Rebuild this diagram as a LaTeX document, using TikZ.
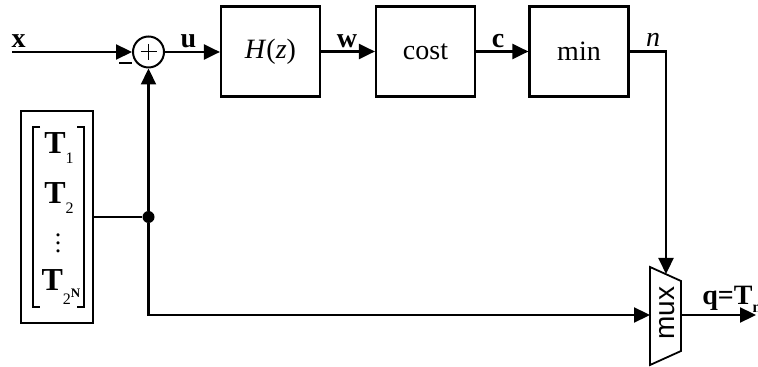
\documentclass[tikz,border=0pt]{standalone}
\usepackage{fontspec}
\setmainfont{Liberation Serif}
\newfontfamily\muxfont{Liberation Sans}
\usetikzlibrary{arrows.meta}
\begin{document}
\begin{tikzpicture}[x=0.5pt,y=-0.5pt,
  blk/.style={draw, line width=1.1pt, minimum width=49.5pt, minimum height=45pt, inner sep=0pt, font=\fontsize{14}{16}\selectfont},
  lbl/.style={font=\fontsize{14}{16}\selectfont\bfseries, inner sep=0pt, anchor=base},
  arr/.style={-{Triangle[length=8pt,width=7.5pt]}, line width=1.1pt},
  ln/.style={line width=1.1pt},
  tl/.style={font=\fontsize{16}{18}\selectfont\bfseries, inner sep=0pt}]
\useasboundingbox (0,0) rectangle (758,367);
\clip (0,0) rectangle (758,367);
% blocks
\node[blk] (H) at (270.5,51.5) {\textit{H}(\textit{z})};
\node[blk] (cost) at (425.5,51.5) {cost};
\node[blk] (min) at (579,51.5) {min};
\node[draw, circle, line width=1pt, minimum size=15.5pt, inner sep=0pt] (sum) at (148.5,52) {};
\draw[line width=0.5pt] (sum.center) ++(-8,0) -- ++(16,0);
\draw[line width=0.5pt] (sum.center) ++(0,-8) -- ++(0,16);
% input
\coordinate (xin) at (12,52);
\draw[arr] (xin) -- (sum.west);
\node[lbl] (xl) at (18.5,48) {x};
\node[inner sep=0pt] (minus) at (125.5,63) {\rule{6.5pt}{1.4pt}};
\draw[arr] (sum.east) -- (H.west |- sum.east);
\node[lbl] (ul) at (188.5,48) {u};
\draw[arr] (H.east) -- (cost.west);
\node[lbl] (wl) at (347,48) {w};
\draw[arr] (cost.east) -- (min.west);
\node[lbl] (cl) at (498,48) {c};
\node[lbl, font=\fontsize{14}{16}\selectfont\itshape] (nl) at (653,47) {n};
% codebook box
\node[draw, line width=1.1pt, minimum width=36pt, minimum height=106pt, inner sep=0pt] (cb) at (57,217) {};
\draw[line width=0.6pt] (40,127) -- (33,127) -- (33,307) -- (40,307);
\draw[line width=0.6pt] (77,127) -- (84,127) -- (84,307) -- (77,307);
\node[tl] (t1) at (59,148) {T\raisebox{-0.7ex}{\fontsize{8}{9}\mdseries 1}};
\node[tl] (t2) at (59,198) {T\raisebox{-0.7ex}{\fontsize{8}{9}\mdseries 2}};
\node[inner sep=0pt, font=\fontsize{13}{15}\selectfont] (dots) at (58,237) {$\vdots$};
\node[tl] (tn) at (61,287) {T\raisebox{-0.9ex}{\fontsize{8}{9}\mdseries 2\raisebox{0.9ex}{\fontsize{6.5}{7}\bfseries N}}};
% junction
\node[circle, fill, minimum size=6pt, inner sep=0pt] (dot) at (148.5,217) {};
\draw[ln] (cb.east) -- (dot);
\draw[arr] (dot) -- (sum.south);
% mux
\coordinate (m1) at (650,267);
\coordinate (m2) at (681,281);
\coordinate (m3) at (681,351);
\coordinate (m4) at (650,365);
\draw[line width=0.9pt] (m1) -- (m2) -- (m3) -- (m4) -- cycle;
\node[rotate=90, inner sep=0pt, font=\fontsize{14}{16}\muxfont] (mux) at (667,313) {mux};
\coordinate (muxtop) at (666,274);
\coordinate (muxin) at (650,315);
\coordinate (muxout) at (681,315);
\coordinate (qout) at (756,315);
\coordinate (bend) at (148.5,315);
\draw[arr] (dot) -- (bend) -- (muxin);
\draw[arr] (min.east) -- (666,51.5) -- (muxtop);
\draw[arr] (muxout) -- (qout);
\node[lbl, anchor=base west] (ql) at (702,305) {q=T\raisebox{-0.6ex}{\fontsize{8}{9}\selectfont n}};
\end{tikzpicture}
\end{document}
